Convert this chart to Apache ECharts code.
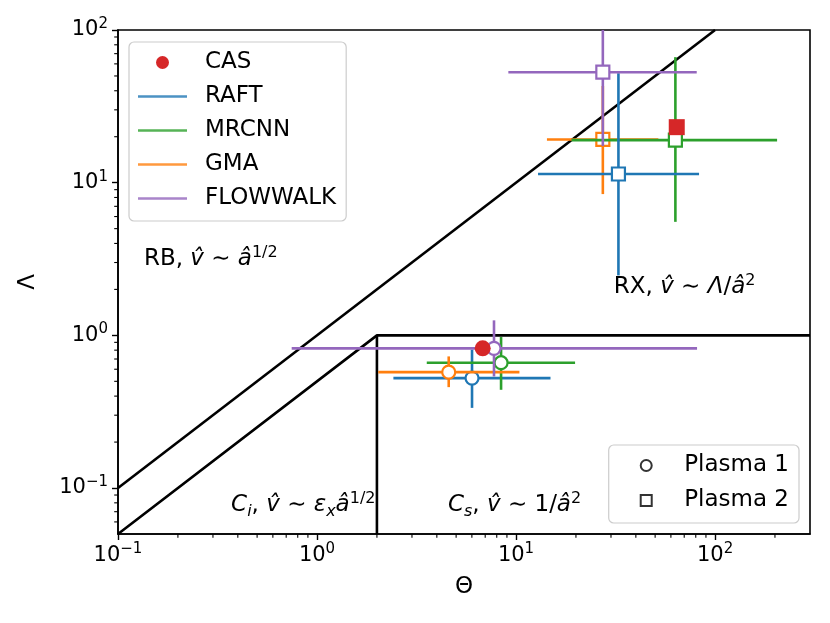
<!DOCTYPE html>
<html><head><meta charset="utf-8">
<script src="https://cdn.jsdelivr.net/npm/echarts@6/dist/echarts.min.js"></script>
<style>html,body{margin:0;padding:0;background:#fff}#c{width:830px;height:623px}</style>
</head><body><div id="c"></div>
<script>
// ---------- data ----------
const methods = ['RAFT', 'MRCNN', 'GMA', 'FLOWWALK'];
const methodColors = ['#1f77b4', '#2ca02c', '#ff7f0e', '#9467bd'];
const casColor = '#d62728';
// rows: [Theta, Lambda, ThetaLow, ThetaHigh, LambdaLow, LambdaHigh]; row 0 = Plasma 1, row 1 = Plasma 2
const RAFT     = [[6.01, 0.525, 2.42, 14.9, 0.335, 0.806], [32.7, 11.4, 12.9, 83.1, 2.47, 52.1]];
const MRCNN    = [[8.41, 0.662, 3.56, 19.8, 0.44, 0.975], [63.2, 19.0, 19.0, 205, 5.54, 66.4]];
const GMA      = [[4.59, 0.574, 2.03, 10.4, 0.458, 0.728], [27.3, 19.2, 14.3, 51.9, 8.42, 43]];
const FLOWWALK = [[7.75, 0.822, 0.746, 81.2, 0.538, 1.254], [27.3, 52.9, 9.15, 80.9, 17.4, 180]];
const CAS      = [[6.80, 0.822], [64.2, 23.1]];
const plasmaNames = ['Plasma 1', 'Plasma 2'];
const drawOrder = [[0, 1, 2, 3], [2, 1, 0, 3]];
const xRange = [0.1, 300];
const yRange = [0.05, 100];
// regime boundaries
const boundaryRB = [[0.1, 0.1], [100, 100]];
const boundaryLow = [[0.1, 0.05], [2, 1], [300, 1]];
const boundaryCs = [[2, 1], [2, 0.05]];
// regime annotations
const regimeText = [
  '{n|RB, }{i|v\u0302}{n| \u223c }{i|\u00e2}{s|1/2}',
  '{n|RX, }{i|v\u0302}{n| \u223c }{i|\u039b}{n|/}{i|\u00e2}{s|2}',
  '{i|C}{sb|i}{n|, }{i|v\u0302}{n| \u223c }{i|\u03b5}{sb|x}{i|\u00e2}{s|1/2}',
  '{i|C}{sb|s}{n|, }{i|v\u0302}{n| \u223c }{n|1/}{i|\u00e2}{s|2}'
];
const regimeX = [0.135, 31.0, 0.37, 4.55];
const regimeY = [3.15, 2.07, 0.077, 0.077];

// ---------- chart ----------
const F = 'DejaVu Sans';
const allRows = [RAFT, MRCNN, GMA, FLOWWALK];
const ebData = [];
for (let p = 0; p < 2; p++) {
  for (const m of drawOrder[p]) ebData.push(allRows[m][p].concat([m, p]));
}
const minorX = [], minorY = [];
for (let e = -2; e <= 2; e++) for (let k = 2; k <= 9; k++) {
  const v = k * Math.pow(10, e);
  if (v > xRange[0] && v < xRange[1]) minorX.push(v);
  if (v > yRange[0] && v < yRange[1]) minorY.push(v);
}
function expLabel(v) {
  const e = Math.round(Math.log10(v));
  if (Math.abs(Math.log10(v) - e) > 1e-6) return '';
  return '{b|10}{s|' + String(e).replace('-', '\u2212') + '}';
}
const tickRich = {
  b: {fontSize: 21, fontFamily: F, color: '#000', lineHeight: 27},
  s: {fontSize: 15, fontFamily: F, color: '#000', lineHeight: 15, verticalAlign: 'top'}
};
const textRich = {
  n: {fontSize: 23, fontFamily: F, color: '#000', lineHeight: 29},
  i: {fontSize: 23, fontFamily: F, fontStyle: 'italic', color: '#000', lineHeight: 29},
  s: {fontSize: 16, fontFamily: F, color: '#000', lineHeight: 16, verticalAlign: 'top'},
  sb: {fontSize: 16, fontFamily: F, fontStyle: 'italic', color: '#000', lineHeight: 16, verticalAlign: 'bottom'}
};
const linePath = 'path://M0,0H50V2.6H0Z';
const squarePath = 'path://M0,0H10V10H0Z';

const chart = echarts.init(document.getElementById('c'), null, {renderer: 'canvas'});
const series = [];
// minor ticks
series.push({
  type: 'custom', name: '_minor', silent: true, z: 1,
  data: [[1, 1]], encode: {x: 0, y: 1},
  renderItem: function (params, api) {
    const cs = params.coordSys;
    const kids = [];
    const bottom = cs.y + cs.height, left = cs.x;
    minorX.forEach(v => {
      const p = api.coord([v, yRange[0]]);
      kids.push({type: 'line', shape: {x1: p[0], y1: bottom, x2: p[0], y2: bottom + 3.8}, style: {stroke: '#000', lineWidth: 1.1}});
    });
    minorY.forEach(v => {
      const p = api.coord([xRange[0], v]);
      kids.push({type: 'line', shape: {x1: left - 3.8, y1: p[1], x2: left, y2: p[1]}, style: {stroke: '#000', lineWidth: 1.1}});
    });
    return {type: 'group', children: kids};
  }
});
// boundaries
[boundaryRB, boundaryLow, boundaryCs].forEach((b, i) => series.push({
  type: 'line', name: '_b' + i, data: b, symbol: 'none', silent: true, z: 3,
  lineStyle: {color: '#000', width: 2.6}, itemStyle: {color: '#000'}
}));
// error bars
series.push({
  type: 'custom', name: '_eb', z: 4, silent: true,
  data: ebData, dimensions: ['x', 'y', 'xl', 'xh', 'yl', 'yh', 'm', 'p'],
  encode: {x: 0, y: 1},
  renderItem: function (params, api) {
    const cs = params.coordSys;
    const clX = v => Math.max(cs.x, Math.min(cs.x + cs.width, v));
    const clY = v => Math.max(cs.y, Math.min(cs.y + cs.height, v));
    const x = api.value(0), y = api.value(1);
    const m = api.value(6), p = api.value(7);
    const color = methodColors[m];
    const c = api.coord([x, y]);
    const a = api.coord([api.value(2), y]);
    const b = api.coord([api.value(3), y]);
    const d = api.coord([x, api.value(4)]);
    const e = api.coord([x, api.value(5)]);
    const ls = {stroke: color, lineWidth: 2.6};
    const kids = [
      {type: 'line', shape: {x1: clX(a[0]), y1: c[1], x2: clX(b[0]), y2: c[1]}, style: ls},
      {type: 'line', shape: {x1: c[0], y1: clY(d[1]), x2: c[0], y2: clY(e[1])}, style: ls}
    ];
    if (p === 0) kids.push({type: 'circle', shape: {cx: c[0], cy: c[1], r: 6.5}, style: {fill: '#fff', stroke: color, lineWidth: 2.2}});
    else kids.push({type: 'rect', shape: {x: c[0] - 6.5, y: c[1] - 6.5, width: 13, height: 13}, style: {fill: '#fff', stroke: color, lineWidth: 2.2}});
    return {type: 'group', children: kids};
  }
});
// CAS
series.push({
  type: 'scatter', name: 'CAS', z: 5, silent: true,
  data: CAS.map((r, i) => ({value: r, symbol: i === 0 ? 'circle' : 'rect', symbolSize: 16})),
  itemStyle: {color: casColor, opacity: 1}
});
// legend-only series
methods.forEach((m, i) => series.push({type: 'scatter', name: m, data: [], itemStyle: {color: methodColors[i]}}));
plasmaNames.forEach(n => series.push({type: 'scatter', name: n, data: [], itemStyle: {color: '#000'}}));
// annotations
series.push({
  type: 'scatter', name: '_txt', symbolSize: 0, silent: true, z: 6,
  itemStyle: {opacity: 1},
  data: regimeText.map((t, i) => ({value: [regimeX[i], regimeY[i]], label: {formatter: t}})),
  label: {show: true, position: 'right', distance: 0, color: '#000', opacity: 1, rich: textRich}
});

const legendText = {fontSize: 23, lineHeight: 22, color: '#000', fontFamily: F};
chart.setOption({
  animation: false,
  backgroundColor: '#fff',
  grid: {left: 118, right: 20, top: 30, bottom: 89, show: true, borderColor: '#000', borderWidth: 1.6, backgroundColor: 'transparent'},
  xAxis: {
    type: 'log', logBase: 10, min: xRange[0], max: xRange[1],
    name: '\u0398', nameLocation: 'middle', nameGap: 42,
    nameTextStyle: {fontSize: 23, color: '#000', fontFamily: F},
    axisLine: {lineStyle: {color: '#000', width: 1.6}},
    axisTick: {length: 6, lineStyle: {color: '#000', width: 1.4}},
    axisLabel: {formatter: expLabel, rich: tickRich, margin: 8, showMaxLabel: false},
    splitLine: {show: false}
  },
  yAxis: {
    type: 'log', logBase: 10, min: yRange[0], max: yRange[1],
    name: '\u039b', nameLocation: 'middle', nameGap: 78, nameRotate: 90,
    nameTextStyle: {fontSize: 23, color: '#000', fontFamily: F},
    axisLine: {lineStyle: {color: '#000', width: 1.6}},
    axisTick: {length: 6, lineStyle: {color: '#000', width: 1.4}},
    axisLabel: {formatter: expLabel, rich: tickRich, margin: 10, showMinLabel: false},
    splitLine: {show: false}
  },
  legend: [{
    data: [{name: 'CAS', icon: 'circle', itemStyle: {color: casColor}}].concat(
      methods.map((m, i) => ({name: m, icon: linePath, itemStyle: {color: methodColors[i]}}))),
    orient: 'vertical', left: 129, top: 42, itemWidth: 49, itemHeight: 13, itemGap: 11,
    padding: [9, 10, 11, 9], backgroundColor: 'rgba(255,255,255,0.8)', borderColor: '#cccccc',
    borderWidth: 1.2, borderRadius: 5, selectedMode: false, symbolKeepAspect: true,
    textStyle: Object.assign({padding: [0, 0, 0, 13]}, legendText)
  }, {
    data: [
      {name: plasmaNames[0], icon: 'circle', itemStyle: {color: '#fff', borderColor: '#000', borderWidth: 2}},
      {name: plasmaNames[1], icon: squarePath, itemStyle: {color: '#fff', borderColor: '#000', borderWidth: 2}}
    ],
    orient: 'vertical', right: 31, bottom: 100, itemWidth: 44, itemHeight: 11, itemGap: 12,
    padding: [9, 10, 11, 31], backgroundColor: 'rgba(255,255,255,0.8)', borderColor: '#cccccc',
    borderWidth: 1.2, borderRadius: 5, selectedMode: false, symbolKeepAspect: true,
    textStyle: Object.assign({padding: [0, 0, 0, 11]}, legendText)
  }],
  series: series
});
</script></body></html>
